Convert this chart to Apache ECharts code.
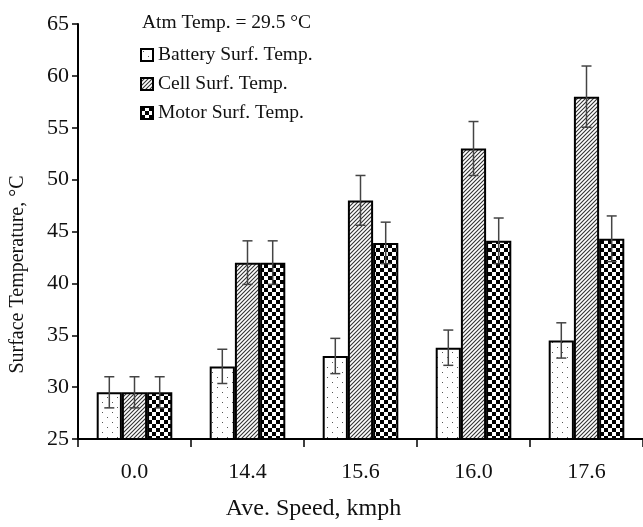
<!DOCTYPE html>
<html>
<head>
<meta charset="utf-8">
<script src="https://cdn.jsdelivr.net/npm/echarts@6/dist/echarts.min.js"></script>
<style>html,body{margin:0;padding:0;background:#fff}#c{width:643px;height:527px}</style>
</head>
<body>
<div id="c"></div>
<script>
const speeds = ['0.0', '14.4', '15.6', '16.0', '17.6'];
const batteryTemp = [29.5, 32.0, 33.0, 33.8, 34.5];
const batteryErr  = [1.5, 1.65, 1.7, 1.7, 1.7];
const cellTemp    = [29.5, 42.0, 48.0, 53.0, 58.0];
const cellErr     = [1.5, 2.1, 2.4, 2.6, 2.95];
const motorTemp   = [29.5, 42.0, 43.9, 44.1, 44.3];
const motorErr    = [1.5, 2.1, 2.0, 2.2, 2.2];
const yTicks = {min: 25, max: 65, step: 5};
const seriesNames = ['Battery Surf. Temp.', 'Cell Surf. Temp.', 'Motor Surf. Temp.'];
const noteText = 'Atm Temp. = 29.5 °C';

const FONT = '"Liberation Serif", "DejaVu Serif", serif';
const BAR_FRAC = 0.223;

function makeTile(w, h, draw) {
  const c = document.createElement('canvas');
  c.width = w; c.height = h;
  const g = c.getContext('2d');
  g.fillStyle = '#fff'; g.fillRect(0, 0, w, h);
  draw(g, w, h);
  return c;
}
const dotTile = makeTile(10, 10, (g) => {
  g.fillStyle = '#555';
  g.fillRect(2, 2, 1, 1);
  g.fillRect(7, 7, 1, 1);
});
const hatchTile = makeTile(4, 4, (g, w, h) => {
  g.strokeStyle = '#333'; g.lineWidth = 1.1;
  g.beginPath();
  g.moveTo(-1, h + 1); g.lineTo(w + 1, -1);
  g.moveTo(-1, 1); g.lineTo(1, -1);
  g.moveTo(w - 1, h + 1); g.lineTo(w + 1, h - 1);
  g.stroke();
});
const checkTile = makeTile(8, 8, (g) => {
  g.fillStyle = '#000';
  g.fillRect(0, 0, 4, 4);
  g.fillRect(4, 4, 4, 4);
});
const fills = [dotTile, hatchTile, checkTile].map(t => ({image: t, repeat: 'repeat'}));

const values = [batteryTemp, cellTemp, motorTemp];
const errs = [batteryErr, cellErr, motorErr];

const barSeries = values.map((vals, i) => ({
  name: seriesNames[i],
  type: 'bar',
  data: vals,
  barWidth: (BAR_FRAC * 100) + '%',
  barGap: '0%',
  itemStyle: {color: fills[i], borderColor: '#000', borderWidth: 2},
  emphasis: {disabled: true},
  z: 2
}));

const errSeries = values.map((vals, i) => ({
  name: 'err' + i,
  type: 'custom',
  z: 10,
  data: vals.map((v, k) => [k, v, errs[i][k]]),
  renderItem: function (params, api) {
    const xi = api.value(0), v = api.value(1), e = api.value(2);
    const band = api.size([1, 0])[0];
    const off = (i - 1) * band * BAR_FRAC;
    const top = api.coord([xi, v + e]);
    const bot = api.coord([xi, v - e]);
    const x = top[0] + off;
    const hw = 5;
    const st = {stroke: '#444', lineWidth: 1.5};
    return {
      type: 'group',
      children: [
        {type: 'line', shape: {x1: x, y1: top[1], x2: x, y2: bot[1]}, style: st},
        {type: 'line', shape: {x1: x - hw, y1: top[1], x2: x + hw, y2: top[1]}, style: st},
        {type: 'line', shape: {x1: x - hw, y1: bot[1], x2: x + hw, y2: bot[1]}, style: st}
      ]
    };
  }
}));

const chart = echarts.init(document.getElementById('c'), null, {renderer: 'canvas'});
chart.setOption({
  animation: false,
  backgroundColor: '#fff',
  textStyle: {fontFamily: FONT},
  title: {
    text: noteText,
    left: 137, top: 8,
    textStyle: {fontFamily: FONT, fontSize: 19.5, fontWeight: 'normal', color: '#111'}
  },
  legend: {
    data: seriesNames,
    orient: 'vertical',
    left: 135, top: 40,
    icon: 'rect',
    itemWidth: 12, itemHeight: 12,
    itemGap: 9,
    selectedMode: false,
    textStyle: {fontFamily: FONT, fontSize: 19.5, color: '#111'},
    itemStyle: {borderColor: '#000', borderWidth: 2}
  },
  grid: {left: 78, top: 24, width: 567, bottom: 88, containLabel: false},
  xAxis: {
    type: 'category',
    data: speeds,
    name: 'Ave. Speed, kmph',
    nameLocation: 'middle',
    nameGap: 58,
    nameTextStyle: {fontFamily: FONT, fontSize: 24, color: '#111', padding: [0, 94, 0, 0]},
    axisLine: {lineStyle: {color: '#000', width: 2}},
    axisTick: {show: true, length: 8, lineStyle: {color: '#000', width: 1.5}},
    axisLabel: {fontFamily: FONT, fontSize: 22, color: '#111', margin: 22}
  },
  yAxis: {
    type: 'value',
    min: yTicks.min, max: yTicks.max, interval: yTicks.step,
    name: 'Surface Temperature, °C',
    nameLocation: 'middle',
    nameGap: 50,
    nameTextStyle: {fontFamily: FONT, fontSize: 20, color: '#111', padding: [0, 86, 0, 0]},
    axisLine: {show: true, lineStyle: {color: '#000', width: 2}},
    axisTick: {show: true, length: 6, lineStyle: {color: '#000', width: 1.5}},
    splitLine: {show: false},
    axisLabel: {fontFamily: FONT, fontSize: 22, color: '#111', margin: 9}
  },
  series: barSeries.concat(errSeries)
});
</script>
</body>
</html>
